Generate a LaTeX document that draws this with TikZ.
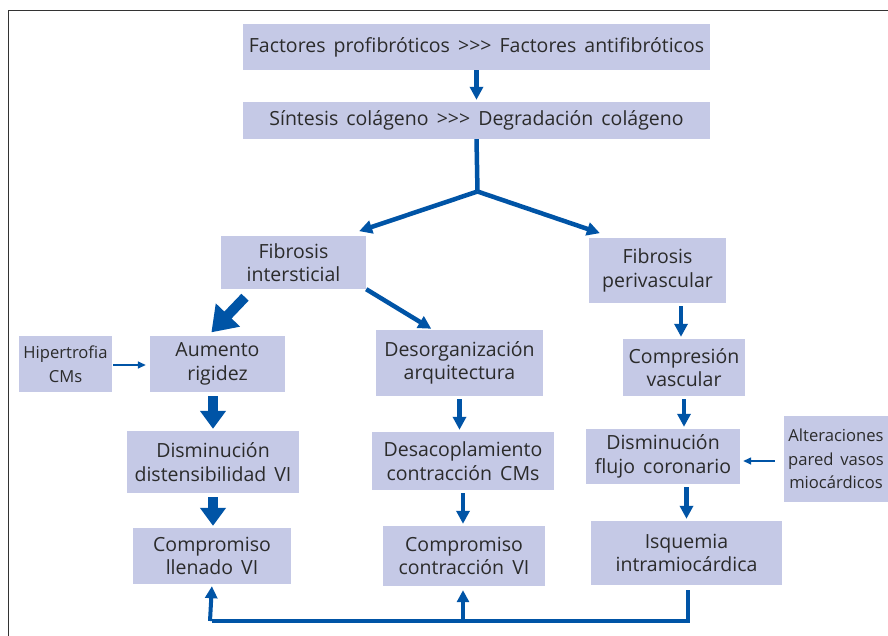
\documentclass[tikz,border=0pt]{standalone}
\usepackage{fontspec}
\setmainfont{Open Sans}[WordSpace=1.6]
\usetikzlibrary{arrows.meta}
\definecolor{boxc}{HTML}{C5C9E6}
\definecolor{arrc}{HTML}{0054A6}
\definecolor{txtc}{HTML}{2B2B2B}
\definecolor{framec}{HTML}{333333}
\newcommand{\ggg}{{>}{>}{>}}
\tikzset{
  box/.style={fill=boxc, text=txtc, align=center, inner sep=0pt,
    font=\fontsize{19.5}{23.5}\selectfont},
  smallbox/.style={box, font=\fontsize{16.6}{23.5}\selectfont},
  arr/.style={draw=arrc, line width=4.5pt, -{Triangle[length=13pt,width=13pt]},
    shorten <=3pt, shorten >=2pt},
  bigarr/.style={draw=arrc, line width=10pt, -{Triangle[length=18pt,width=25pt]},
    shorten <=4pt, shorten >=2pt},
  thinarr/.style={draw=arrc, line width=1.5pt, -{Triangle[length=8pt,width=7pt]}},
  fbline/.style={draw=arrc, line width=4pt},
}
\begin{document}
\begin{tikzpicture}[x=1pt,y=-1pt]
\useasboundingbox (0,0) rectangle (888,635);
\fill[white] (0,0) rectangle (888,635);
% frame
\draw[framec, line width=1.6pt] (8.5,640) -- (8.5,10.5) -- (892,10.5);

% nodes
\node[box, minimum width=467pt, minimum height=46pt] (b1) at (476.5,47) {Factores profibróticos \ggg\ Factores antifibróticos};
\node[box, minimum width=467pt, minimum height=37pt] (b2) at (476.5,120.5) {Síntesis colágeno \ggg\ Degradación colágeno};
\node[box, minimum width=145pt, minimum height=53pt] (fi) at (293.5,262.5) {Fibrosis\\intersticial};
\node[box, minimum width=137pt, minimum height=65pt] (fp) at (657.5,270.5) {Fibrosis\\perivascular};
\node[smallbox, minimum width=93pt, minimum height=56pt] (hip) at (65.5,364) {Hipertrofia\\CMs};
\node[box, minimum width=135pt, minimum height=56pt] (ar) at (217.5,364) {Aumento\\rigidez};
\node[box, minimum width=167pt, minimum height=66pt] (da) at (459.5,363) {Desorganización\\arquitectura};
\node[box, minimum width=122pt, minimum height=57pt] (cv) at (684,367.5) {Compresión\\vascular};
\node[box, minimum width=172pt, minimum height=62pt] (dd) at (213,462) {Disminución\\distensibilidad VI};
\node[box, minimum width=182pt, minimum height=58pt] (dc) at (463,461) {Desacoplamiento\\contracción CMs};
\node[box, minimum width=154pt, minimum height=55pt] (df) at (663,456.5) {Disminución\\flujo coronario};
\fill[boxc] (784,416) rectangle (892,502);
\node[smallbox, fill=none, minimum width=104pt, minimum height=86pt] (alt) at (836,459) {Alteraciones\\pared vasos\\miocárdicos};
\node[box, minimum width=158pt, minimum height=56pt] (cl) at (212,556) {Compromiso\\llenado VI};
\node[box, minimum width=162pt, minimum height=60pt] (cc) at (464,556) {Compromiso\\contracción VI};
\node[box, minimum width=191pt, minimum height=64pt] (isq) at (686.5,553) {Isquemia\\intramiocárdica};

% junction
\coordinate (jn) at (477.5,191.5);
\coordinate (fbR) at (688,621);
\coordinate (fbM) at (463,621);
\coordinate (fbL) at (212,621);

% connectors
\draw[arr, shorten <=0pt] (b1.south) -- (b2.north);
\draw[draw=arrc, line width=4.5pt] ([yshift=0pt]b2.south) -- (jn);
\draw[arr, shorten <=0pt] (jn) -- ([xshift=-9pt,yshift=4pt]fi.north east);
\draw[arr, shorten <=0pt] (jn) -- ([xshift=13pt,yshift=4pt]fp.north west);
\draw[arr, shorten <=0pt] (fi.south east) -- ([xshift=-26.5pt]da.north);
\draw[bigarr, shorten <=0pt, -{Triangle[length=24pt,width=32pt]}] ([xshift=-48.5pt,yshift=-8pt]fi.south) -- ([xshift=-7.5pt,yshift=2pt]ar.north);
\draw[thinarr, shorten <=1pt, shorten >=4pt] ([yshift=-1pt]hip.east) -- ([yshift=-1pt]ar.west);
\draw[bigarr] (dd.north |- ar.south) -- (dd.north);
\draw[bigarr] (dd.south) -- (dd.south |- cl.north);
\draw[arr] (da.south) -- (da.south |- dc.north);
\draw[arr] (dc.south) -- (dc.south |- cc.north);
\draw[arr] ([xshift=-3pt]fp.south -| cv.north) -- ([xshift=-3pt]cv.north);
\draw[arr] (cv.south) -- (cv.south |- df.north);
\draw[arr] (isq.north |- df.south) -- (isq.north);
\draw[thinarr, shorten <=9pt, shorten >=3pt] ([yshift=-2pt]alt.west) -- ([yshift=-4.5pt]df.east);

% feedback
\draw[fbline] ([yshift=-5pt]isq.south -| fbR) -- (fbR) -- (fbL);
\draw[fbline, -{Triangle[length=12pt,width=12pt]}, shorten >=2pt] ([xshift=-2pt]fbL) -- (cl.south -| fbL);
\draw[fbline, -{Triangle[length=12pt,width=12pt]}, shorten >=4pt] (fbM) -- (cc.south -| fbM);
\end{tikzpicture}
\end{document}
